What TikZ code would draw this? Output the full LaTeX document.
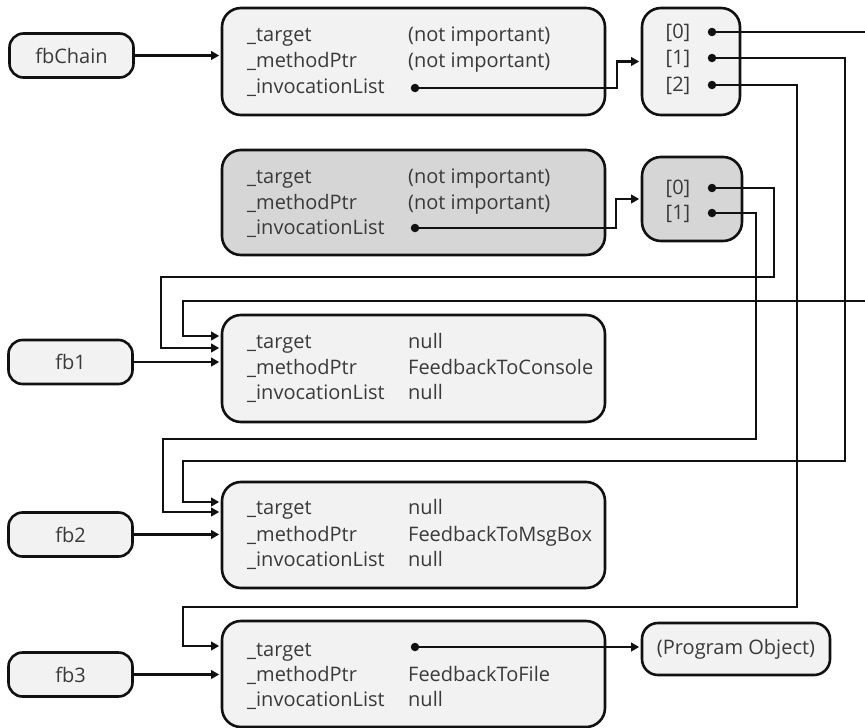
\documentclass[tikz,border=0pt]{standalone}
\usepackage{fontspec}
\setmainfont{Open Sans}
\usetikzlibrary{arrows.meta,calc}
\definecolor{lightfill}{HTML}{F2F2F2}
\definecolor{darkfill}{HTML}{D6D6D6}
\definecolor{txt}{HTML}{3A3A3A}
\definecolor{edge}{HTML}{111111}
\tikzset{
  txtfont/.style={font=\fontsize{20}{24}\selectfont},
  box/.style={draw=edge, line width=2.6pt, rounded corners=19pt, fill=lightfill, inner sep=0pt},
  graybox/.style={box, fill=darkfill},
  smallbox/.style={box, rounded corners=14pt, text=txt, txtfont,
    minimum width=124pt, minimum height=44pt},
  lbl/.style={anchor=base west, text=txt, txtfont, inner sep=0pt},
  idx/.style={anchor=base, text=txt, txtfont, inner sep=0pt},
  conn/.style={draw=edge, line width=2.3pt, shorten >=1.5pt, -{Triangle[length=8pt,width=8.5pt]}},
  dot/.style={circle, fill=edge, inner sep=0pt, minimum size=8.5pt},
}
\begin{document}
\begin{tikzpicture}[x=1pt,y=-1pt]
\useasboundingbox (0,0) rectangle (865,728);
\clip (0,0) rectangle (865,728);

% ---------- boxes ----------
\node[smallbox] (fbChain) at (71.5,55.5) {fbChain};
\node[smallbox] (fb1) at (70.5,362) {fb1};
\node[smallbox] (fb2) at (70.5,534.5) {fb2};
\node[smallbox] (fb3) at (70.5,674.5) {fb3};

\node[box, minimum width=383pt, minimum height=107pt] (chain) at (413.5,61.5) {};
\node[box, minimum width=98pt, minimum height=107pt] (chainArr) at (691,61.5) {};
\node[graybox, minimum width=383pt, minimum height=105pt] (gray) at (413.5,202.5) {};
\node[graybox, minimum width=100pt, minimum height=84pt] (grayArr) at (692,199) {};
\node[box, minimum width=383pt, minimum height=107pt] (fb1box) at (413.5,368.5) {};
\node[box, minimum width=383pt, minimum height=106pt] (fb2box) at (413.5,535) {};
\node[box, minimum width=383pt, minimum height=106pt] (fb3box) at (413.5,674) {};
\node[box, rounded corners=16pt, minimum width=188pt, minimum height=52pt, text=txt,
      txtfont] (progObj) at (736,649) {(Program Object)};

% ---------- texts ----------
\node[lbl] (c1) at (247,41) {\_target};
\node[lbl] (c2) at (247,67) {\_methodPtr};
\node[lbl] (c3) at (247,93) {\_invocationList};
\node[lbl] (c1v) at (408,41) {(not important)};
\node[lbl] (c2v) at (408,67) {(not important)};

\node[lbl] (g1t) at (247,183) {\_target};
\node[lbl] (g2t) at (247,209) {\_methodPtr};
\node[lbl] (g3t) at (247,234) {\_invocationList};
\node[lbl] (g1v) at (408,183) {(not important)};
\node[lbl] (g2v) at (408,209) {(not important)};

\node[lbl] (a1t) at (247,348) {\_target};
\node[lbl] (a2t) at (247,374) {\_methodPtr};
\node[lbl] (a3t) at (247,399) {\_invocationList};
\node[lbl] (a1v) at (408,348) {null};
\node[lbl] (a2v) at (408,374) {FeedbackToConsole};
\node[lbl] (a3v) at (408,399) {null};

\node[lbl] (b1t) at (247,514) {\_target};
\node[lbl] (b2t) at (247,541) {\_methodPtr};
\node[lbl] (b3t) at (247,566) {\_invocationList};
\node[lbl] (b1v) at (408,514) {null};
\node[lbl] (b2v) at (408,541) {FeedbackToMsgBox};
\node[lbl] (b3v) at (408,566) {null};

\node[lbl] (d1t) at (247,656) {\_target};
\node[lbl] (d2t) at (247,681) {\_methodPtr};
\node[lbl] (d3t) at (247,706) {\_invocationList};
\node[lbl] (d2v) at (408,681) {FeedbackToFile};
\node[lbl] (d3v) at (408,706) {null};

\node[idx] (i0) at (678,38) {[0]};
\node[idx] (i1) at (678,64) {[1]};
\node[idx] (i2) at (678,91) {[2]};
\node[idx] (j0) at (678,194) {[0]};
\node[idx] (j1) at (678,219) {[1]};

% ---------- dots ----------
\coordinate (chainDotC) at (415,88);
\coordinate (grayDotC) at (415,228);
\coordinate (t3DotC) at (415,647);
\coordinate (a0C) at (712,32);
\coordinate (a1C) at (712,58);
\coordinate (a2C) at (712,85);
\coordinate (g0C) at (712,188);
\coordinate (g1C) at (712,213);

% ---------- connectors ----------
\draw[conn] (fbChain) -- (chain.west |- fbChain);
\draw[conn] (chainDotC) -- (617,88) |- (chainArr.west);
\draw[conn] (grayDotC) -- (616,228) |- (grayArr.west);

\draw[conn] (a0C) -- (880,32) -- (880,301) -- (183,301) |- (fb1box.west |- 0,336);
\draw[conn] (g0C) -- (774,188) -- (774,277) -- (161,277) |- (fb1box.west |- 0,348);
\draw[conn] (fb1) -- (fb1box.west |- fb1);

\draw[conn] (a1C) -- (845,58) -- (845,461) -- (183,461) |- (fb2box.west |- 0,502);
\draw[conn] (g1C) -- (756,213) -- (756,439) -- (163,439) |- (fb2box.west |- 0,512);
\draw[conn] (fb2) -- (fb2box.west |- fb2);

\draw[conn] (a2C) -- (797,85) -- (797,607) -- (183,607) |- (fb3box.west |- 0,646);
\draw[conn] (fb3) -- (fb3box.west |- fb3);

\draw[conn] (t3DotC) -- (progObj.west |- t3DotC);

\foreach \p in {chainDotC,grayDotC,t3DotC,a0C,a1C,a2C,g0C,g1C}
  \node[dot] at (\p) {};
\end{tikzpicture}
\end{document}
